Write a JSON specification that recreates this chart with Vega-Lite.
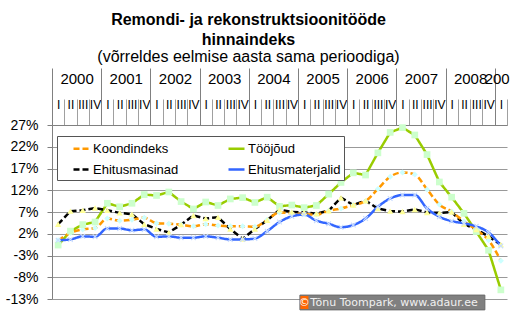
{
  "$schema": "https://vega.github.io/schema/vega-lite/v6.json",
  "autosize": "none",
  "padding": {"left": 52, "top": 125, "right": 3, "bottom": 13},
  "width": 455,
  "height": 174,
  "background": "white",
  "config": {"view": {"stroke": null}, "font": "Liberation Sans"},
  "title": {
    "text": ["Remondi- ja rekonstruktsioonitööde", "hinnaindeks"],
    "subtitle": "(võrreldes eelmise aasta sama perioodiga)",
    "font": "Liberation Sans", "fontSize": 16, "fontWeight": "bold", "lineHeight": 20, "color": "black",
    "subtitleFont": "Liberation Sans", "subtitleFontSize": 16, "subtitleColor": "black", "subtitlePadding": 1,
    "anchor": "middle", "frame": "group", "dx": -31, "offset": 3
  },
  "data": {"values": [
    {"t": 0, "Koondindeks": 0.5, "Tööjõud": -0.6, "Ehitusmasinad": 4.2, "Ehitusmaterjalid": 0.5},
    {"t": 1, "Koondindeks": 2.2, "Tööjõud": 2.6, "Ehitusmasinad": 7.2, "Ehitusmaterjalid": 0.7},
    {"t": 2, "Koondindeks": 3.0, "Tööjõud": 4.1, "Ehitusmasinad": 7.4, "Ehitusmaterjalid": 1.4},
    {"t": 3, "Koondindeks": 3.3, "Tööjõud": 4.7, "Ehitusmasinad": 7.9, "Ehitusmaterjalid": 1.3},
    {"t": 4, "Koondindeks": 5.5, "Tööjõud": 9.0, "Ehitusmasinad": 7.4, "Ehitusmaterjalid": 3.2},
    {"t": 5, "Koondindeks": 5.0, "Tööjõud": 8.2, "Ehitusmasinad": 6.8, "Ehitusmaterjalid": 3.2},
    {"t": 6, "Koondindeks": 5.2, "Tööjõud": 9.0, "Ehitusmasinad": 6.5, "Ehitusmaterjalid": 2.8},
    {"t": 7, "Koondindeks": 5.7, "Tööjõud": 11.0, "Ehitusmasinad": 4.2, "Ehitusmaterjalid": 3.0},
    {"t": 8, "Koondindeks": 4.4, "Tööjõud": 10.8, "Ehitusmasinad": 3.1, "Ehitusmaterjalid": 1.3},
    {"t": 9, "Koondindeks": 4.3, "Tööjõud": 11.6, "Ehitusmasinad": 2.3, "Ehitusmaterjalid": 1.4},
    {"t": 10, "Koondindeks": 4.1, "Tööjõud": 9.4, "Ehitusmasinad": 4.1, "Ehitusmaterjalid": 1.1},
    {"t": 11, "Koondindeks": 3.7, "Tööjõud": 7.7, "Ehitusmasinad": 6.2, "Ehitusmaterjalid": 1.1},
    {"t": 12, "Koondindeks": 4.2, "Tööjõud": 9.3, "Ehitusmasinad": 5.5, "Ehitusmaterjalid": 1.4},
    {"t": 13, "Koondindeks": 3.9, "Tööjõud": 8.5, "Ehitusmasinad": 5.8, "Ehitusmaterjalid": 1.1},
    {"t": 14, "Koondindeks": 3.7, "Tööjõud": 10.0, "Ehitusmasinad": 3.1, "Ehitusmaterjalid": 0.7},
    {"t": 15, "Koondindeks": 3.7, "Tööjõud": 10.3, "Ehitusmasinad": 0.8, "Ehitusmaterjalid": 0.7},
    {"t": 16, "Koondindeks": 3.6, "Tööjõud": 9.2, "Ehitusmasinad": 3.1, "Ehitusmaterjalid": 0.9},
    {"t": 17, "Koondindeks": 5.2, "Tööjõud": 10.4, "Ehitusmasinad": 5.1, "Ehitusmaterjalid": 2.6},
    {"t": 18, "Koondindeks": 6.9, "Tööjõud": 8.3, "Ehitusmasinad": 7.5, "Ehitusmaterjalid": 4.7},
    {"t": 19, "Koondindeks": 6.7, "Tööjõud": 8.6, "Ehitusmasinad": 7.0, "Ehitusmaterjalid": 6.0},
    {"t": 20, "Koondindeks": 6.5, "Tööjõud": 8.0, "Ehitusmasinad": 6.9, "Ehitusmaterjalid": 6.4},
    {"t": 21, "Koondindeks": 6.4, "Tööjõud": 8.5, "Ehitusmasinad": 6.6, "Ehitusmaterjalid": 5.0},
    {"t": 22, "Koondindeks": 7.3, "Tööjõud": 11.1, "Ehitusmasinad": 7.3, "Ehitusmaterjalid": 4.3},
    {"t": 23, "Koondindeks": 7.8, "Tööjõud": 13.8, "Ehitusmasinad": 10.3, "Ehitusmaterjalid": 3.5},
    {"t": 24, "Koondindeks": 8.6, "Tööjõud": 16.0, "Ehitusmasinad": 8.6, "Ehitusmaterjalid": 4.0},
    {"t": 25, "Koondindeks": 9.5, "Tööjõud": 15.5, "Ehitusmasinad": 9.6, "Ehitusmaterjalid": 5.5},
    {"t": 26, "Koondindeks": 12.3, "Tööjõud": 20.6, "Ehitusmasinad": 7.8, "Ehitusmaterjalid": 8.2},
    {"t": 27, "Koondindeks": 15.1, "Tööjõud": 25.3, "Ehitusmasinad": 7.2, "Ehitusmaterjalid": 10.1},
    {"t": 28, "Koondindeks": 16.1, "Tööjõud": 26.4, "Ehitusmasinad": 7.1, "Ehitusmaterjalid": 10.9},
    {"t": 29, "Koondindeks": 15.6, "Tööjõud": 24.7, "Ehitusmasinad": 7.6, "Ehitusmaterjalid": 10.9},
    {"t": 30, "Koondindeks": 12.2, "Tööjõud": 20.2, "Ehitusmasinad": 6.9, "Ehitusmaterjalid": 7.8},
    {"t": 31, "Koondindeks": 8.7, "Tööjõud": 13.9, "Ehitusmasinad": 6.8, "Ehitusmaterjalid": 5.9},
    {"t": 32, "Koondindeks": 7.1, "Tööjõud": 10.4, "Ehitusmasinad": 7.0, "Ehitusmaterjalid": 4.9},
    {"t": 33, "Koondindeks": 4.8, "Tööjõud": 6.7, "Ehitusmasinad": 4.2, "Ehitusmaterjalid": 4.4},
    {"t": 34, "Koondindeks": 2.9, "Tööjõud": 2.5, "Ehitusmasinad": 3.0, "Ehitusmaterjalid": 3.7},
    {"t": 35, "Koondindeks": 0.5, "Tööjõud": -1.8, "Ehitusmasinad": 1.4, "Ehitusmaterjalid": 2.3},
    {"t": 36, "Koondindeks": -4.2, "Tööjõud": -10.9, "Ehitusmasinad": -0.5, "Ehitusmaterjalid": -0.8}
  ]},
  "resolve": {"scale": {"x": "independent"}},
  "layer": [
    {
      "transform": [
        {"fold": ["Koondindeks", "Tööjõud", "Ehitusmasinad", "Ehitusmaterjalid"], "as": ["series", "value"]},
        {"filter": "datum.series == 'Tööjõud' || datum.series == 'Ehitusmasinad'"}
      ],
      "mark": {"type": "line", "strokeWidth": 2.5},
      "encoding": {
        "x": {"field": "t", "type": "quantitative",
          "scale": {"domain": [-0.5, 36.5], "nice": false, "zero": false},
          "axis": {
            "orient": "top", "title": null, "grid": false, "tickCount": 100,
            "values": [-0.5,0.5,1.5,2.5,3.5,4.5,5.5,6.5,7.5,8.5,9.5,10.5,11.5,12.5,13.5,14.5,15.5,16.5,17.5,18.5,19.5,20.5,21.5,22.5,23.5,24.5,25.5,26.5,27.5,28.5,29.5,30.5,31.5,32.5,33.5,34.5,35.5,36.5],
            "domain": true, "domainColor": "#808080",
            "ticks": true, "tickSize": 26, "tickColor": "#A0A0A0",
            "labelExpr": "datum.value > 36 ? '' : ['I','II','III','IV'][(datum.value + 0.5) % 4]",
            "labelOffset": 6.15, "labelPadding": -12, "labelFontSize": 12, "labelFont": "Liberation Sans Narrow, Liberation Sans",
            "labelAngle": 0, "labelColor": "black", "labelOverlap": false, "labelFlush": false, "labelBound": false
          }
        },
        "y": {"field": "value", "type": "quantitative",
          "scale": {"domain": [-13, 27], "nice": false, "zero": false},
          "axis": {
            "orient": "left", "title": null, "values": [-13, -8, -3, 2, 7, 12, 17, 22, 27], "tickCount": 50,
            "labelExpr": "datum.value + '%'", "labelOverlap": false, "labelFlush": false,
            "grid": true, "gridColor": "#999999",
            "tickSize": 5, "tickColor": "#808080", "domainColor": "#808080",
            "labelFontSize": 14, "labelPadding": 9, "labelColor": "black", "labelFont": "Liberation Sans"
          }
        },
        "stroke": {"field": "series", "type": "nominal",
          "scale": {"domain": ["Koondindeks", "Tööjõud", "Ehitusmasinad", "Ehitusmaterjalid"], "range": ["#FF9900", "#99CC00", "#000000", "#3366FF"]},
          "legend": {
            "title": null, "orient": "none", "legendX": 5, "legendY": 11, "columns": 2,
            "direction": "horizontal",
            "symbolType": "stroke", "symbolSize": 256, "symbolStrokeWidth": 2.5, "symbolOffset": 12,
            "labelFontSize": 13, "labelFont": "Liberation Sans", "labelColor": "black", "labelOffset": 2,
            "columnPadding": 36, "rowPadding": 4, "padding": 3,
            "strokeColor": "#555555", "fillColor": "white"
          }
        },
        "strokeDash": {"field": "series", "type": "nominal",
          "scale": {"domain": ["Koondindeks", "Tööjõud", "Ehitusmasinad", "Ehitusmaterjalid"], "range": [[6, 3], [1, 0], [6, 3], [1, 0]]},
          "legend": {"title": null}
        },
        "order": {"field": "t", "type": "quantitative"}
      }
    },
    {
      "transform": [
        {"fold": ["Koondindeks", "Tööjõud", "Ehitusmasinad", "Ehitusmaterjalid"], "as": ["series", "value"]},
        {"filter": "datum.series == 'Koondindeks' || datum.series == 'Ehitusmaterjalid'"}
      ],
      "mark": {"type": "line", "strokeWidth": 2.5, "interpolate": "monotone"},
      "encoding": {
        "x": {"field": "t", "type": "quantitative",
          "scale": {"domain": [-0.5, 36.5], "nice": false, "zero": false},
          "axis": {
            "orient": "top", "title": null, "grid": false, "domain": false, "labels": false, "tickCount": 100,
            "values": [-0.5, 3.5, 7.5, 11.5, 15.5, 19.5, 23.5, 27.5, 31.5, 35.5],
            "ticks": true, "tickSize": 57, "tickColor": "#808080"
          }
        },
        "y": {"field": "value", "type": "quantitative"},
        "stroke": {"field": "series", "type": "nominal"},
        "strokeDash": {"field": "series", "type": "nominal"},
        "order": {"field": "t", "type": "quantitative"}
      }
    },
    {
      "transform": [
        {"fold": ["Koondindeks"], "as": ["series", "value"]}
      ],
      "mark": {"type": "point", "shape": "diamond", "filled": true, "size": 36, "opacity": 1, "color": "#CCFFFF", "strokeWidth": 0},
      "encoding": {
        "x": {"field": "t", "type": "quantitative",
          "scale": {"domain": [-0.5, 36.5], "nice": false, "zero": false},
          "axis": {
            "orient": "top", "title": null, "grid": false, "domain": false, "ticks": false, "tickCount": 100,
            "values": [1.5, 5.5, 9.5, 13.5, 17.5, 21.5, 25.5, 29.5, 33.5, 36],
            "labelExpr": "'' + (2000 + floor((datum.value + 0.5) / 4))",
            "labelPadding": 39, "labelFontSize": 15, "labelFont": "Liberation Sans", "labelColor": "black",
            "labelAngle": 0, "labelOverlap": false, "labelFlush": false, "labelBound": false
          }
        },
        "y": {"field": "value", "type": "quantitative"}
      }
    },
    {
      "transform": [
        {"fold": ["Tööjõud"], "as": ["series", "value"]}
      ],
      "mark": {"type": "point", "shape": "square", "filled": true, "size": 45, "opacity": 1, "color": "#CCFFCC", "strokeWidth": 0},
      "encoding": {
        "x": {"field": "t", "type": "quantitative", "scale": {"domain": [-0.5, 36.5], "nice": false, "zero": false}, "axis": null},
        "y": {"field": "value", "type": "quantitative"}
      }
    },
    {
      "transform": [
        {"fold": ["Ehitusmasinad"], "as": ["series", "value"]}
      ],
      "mark": {"type": "point", "shape": "triangle-up", "filled": true, "size": 40, "opacity": 1, "color": "#FFFF99", "strokeWidth": 0},
      "encoding": {
        "x": {"field": "t", "type": "quantitative", "scale": {"domain": [-0.5, 36.5], "nice": false, "zero": false}, "axis": null},
        "y": {"field": "value", "type": "quantitative"}
      }
    },
    {
      "transform": [
        {"fold": ["Ehitusmaterjalid"], "as": ["series", "value"]}
      ],
      "mark": {"type": "point", "shape": "M-1,-0.7L-0.7,-1L0,-0.3L0.7,-1L1,-0.7L0.3,0L1,0.7L0.7,1L0,0.3L-0.7,1L-1,0.7L-0.3,0Z", "filled": true, "size": 30, "opacity": 1, "color": "#C8DCFF", "strokeWidth": 0},
      "encoding": {
        "x": {"field": "t", "type": "quantitative", "scale": {"domain": [-0.5, 36.5], "nice": false, "zero": false}, "axis": null},
        "y": {"field": "value", "type": "quantitative"}
      }
    },
    {
      "data": {"values": [{"credit": "Tõnu Toompark, www.adaur.ee", "sign": "©"}]},
      "mark": {"type": "rect", "fill": "#808080", "stroke": "#6A6A6A", "strokeWidth": 1},
      "encoding": {
        "x": {"datum": 19.66, "type": "quantitative", "scale": {"domain": [-0.5, 36.5], "nice": false, "zero": false}, "axis": null},
        "x2": {"datum": 34.7},
        "y": {"datum": -12.1, "type": "quantitative"},
        "y2": {"datum": -15.5}
      }
    },
    {
      "data": {"values": [{"credit": "Tõnu Toompark, www.adaur.ee", "sign": "©"}]},
      "mark": {"type": "rect", "fill": "#FF6600"},
      "encoding": {
        "x": {"datum": 19.7, "type": "quantitative", "scale": {"domain": [-0.5, 36.5], "nice": false, "zero": false}, "axis": null},
        "x2": {"datum": 20.35},
        "y": {"datum": -12.3, "type": "quantitative"},
        "y2": {"datum": -15.3}
      }
    },
    {
      "data": {"values": [{"credit": "Tõnu Toompark, www.adaur.ee", "sign": "©"}]},
      "mark": {"type": "text", "color": "white", "font": "DejaVu Sans", "fontSize": 11, "align": "center", "baseline": "middle"},
      "encoding": {
        "x": {"datum": 20.02, "type": "quantitative", "scale": {"domain": [-0.5, 36.5], "nice": false, "zero": false}, "axis": null},
        "y": {"datum": -13.85, "type": "quantitative"},
        "text": {"field": "sign"}
      }
    },
    {
      "data": {"values": [{"credit": "Tõnu Toompark, www.adaur.ee", "sign": "©"}]},
      "mark": {"type": "text", "color": "#F0F0F0", "font": "DejaVu Sans", "fontSize": 11, "align": "left", "baseline": "middle"},
      "encoding": {
        "x": {"datum": 20.5, "type": "quantitative", "scale": {"domain": [-0.5, 36.5], "nice": false, "zero": false}, "axis": null},
        "y": {"datum": -13.85, "type": "quantitative"},
        "text": {"field": "credit"}
      }
    }
  ]
}
